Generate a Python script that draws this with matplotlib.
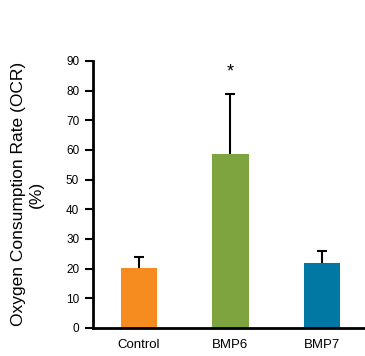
import matplotlib
matplotlib.use('Agg')
import matplotlib.pyplot as plt

plt.rcParams['font.family'] = ['Liberation Sans', 'DejaVu Sans']

groups = ['Control', 'BMP6', 'BMP7']
ocr = [20.2, 58.6, 21.9]
err = [3.8, 20.2, 3.9]
colors = ['#F68B1F', '#7EA440', '#0078A4']

fig = plt.figure(figsize=(3.65, 3.56), dpi=100)
ax = fig.add_axes([0.255, 0.079, 0.745, 0.75])

x = range(len(groups))
ax.bar(x, ocr, width=0.4, color=colors, zorder=2)
eb = ax.errorbar(x, ocr, yerr=[[0] * len(err), err], fmt='none', ecolor='black',
                 elinewidth=1.5, capsize=3.5, capthick=1.5, zorder=1)
# only the upper caps
eb[1][0].set_visible(False)

# significance mark over BMP6
ax.text(1, 86.3, '*', ha='center', va='center', fontsize=13)

ax.set_xlim(-0.5, 2.47)
ax.set_ylim(0, 90)
ax.set_yticks(range(0, 91, 10))
ax.set_xticks(list(x))
ax.set_xticklabels(groups, fontsize=9.5)
ax.tick_params(axis='y', labelsize=8.5, width=1.5, length=6, pad=4, direction='out')
ax.tick_params(axis='x', length=0, pad=8)
for side in ['top', 'right']:
    ax.spines[side].set_visible(False)
ax.spines['left'].set_linewidth(2)
ax.spines['bottom'].set_linewidth(2)

ax.set_ylabel('Oxygen Consumption Rate (OCR)\n(%)', fontsize=12.5, labelpad=16)

fig.savefig('out.png', dpi=100)
